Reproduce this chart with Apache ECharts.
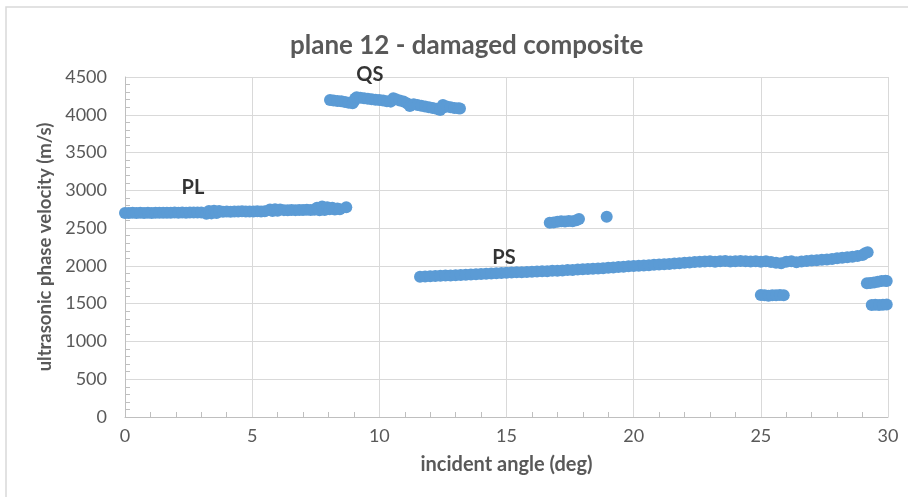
<!DOCTYPE html>
<html>
<head>
<meta charset="utf-8">
<script src="https://cdn.jsdelivr.net/npm/echarts@6/dist/echarts.min.js"></script>
<style>
html,body{margin:0;padding:0;background:#fff;}
#chart{width:908px;height:497px;}
</style>
</head>
<body>
<div id="chart"></div>
<script>
// PL branch [angle (deg), velocity (m/s)]
const plData = [
[0,2700],[0.15,2700],[0.3,2702],[0.45,2700],[0.6,2703],[0.75,2701],[0.9,2702],[1.05,2700],[1.2,2703],[1.35,2702],
[1.5,2704],[1.65,2702],[1.8,2703],[1.95,2705],[2.1,2703],[2.25,2705],[2.4,2704],[2.55,2706],[2.7,2705],[2.85,2707],
[3.0,2706],[3.2,2690],[3.3,2725],[3.4,2695],[3.5,2730],[3.6,2700],[3.7,2728],[3.85,2718],[4.0,2720],[4.15,2718],
[4.3,2721],[4.45,2719],[4.6,2722],[4.75,2720],[4.9,2721],[5.05,2719],[5.2,2722],[5.35,2720],[5.5,2723],[5.7,2745],
[5.8,2725],[5.9,2750],[6.0,2730],[6.1,2745],[6.25,2738],[6.4,2737],[6.55,2740],[6.7,2738],[6.85,2741],[7.0,2740],
[7.15,2742],[7.3,2741],[7.45,2743],[7.55,2770],[7.65,2735],[7.75,2785],[7.85,2740],[7.95,2775],[8.05,2750],[8.15,2770],
[8.25,2745],[8.35,2760],[8.45,2750],[8.7,2775]
];
// QS branch
const qsData = [
[8.06,4195],[8.2,4190],[8.35,4183],[8.5,4178],[8.65,4170],[8.8,4160],[8.95,4152],[9.0,4180],[9.05,4215],[9.11,4231],
[9.25,4225],[9.4,4220],[9.55,4213],[9.7,4205],[9.85,4200],[10.0,4195],[10.15,4188],[10.3,4180],[10.45,4174],[10.55,4218],
[10.65,4205],[10.8,4190],[10.95,4175],[11.1,4150],[11.2,4115],[11.35,4140],[11.5,4130],[11.65,4120],[11.8,4110],[11.95,4100],
[12.1,4090],[12.25,4080],[12.39,4063],[12.5,4130],[12.52,4095],[12.65,4110],[12.8,4100],[12.95,4090],[13.1,4085],[13.17,4082]
];
// PS branch (main band)
const psData = [
[11.6,1857],[11.8,1860],[12.0,1862],[12.2,1866],[12.4,1868],[12.6,1872],[12.8,1874],[13.0,1877],[13.2,1878],[13.4,1884],
[13.6,1886],[13.8,1890],[14.0,1893],[14.2,1895],[14.4,1900],[14.6,1903],[14.8,1906],[15.0,1910],[15.2,1912],[15.4,1915],
[15.6,1916],[15.8,1920],[16.0,1922],[16.2,1925],[16.4,1928],[16.6,1930],[16.8,1935],[17.0,1937],[17.2,1940],[17.4,1944],
[17.6,1947],[17.8,1952],[18.0,1955],[18.2,1958],[18.4,1962],[18.6,1965],[18.8,1970],[19.0,1975],[19.2,1980],[19.4,1984],
[19.6,1988],[19.8,1994],[20.0,1998],[20.2,2002],[20.4,2006],[20.6,2010],[20.8,2014],[21.0,2018],[21.2,2022],[21.4,2026],
[21.6,2030],[21.8,2034],[22.0,2040],[22.2,2044],[22.4,2050],[22.6,2054],[22.8,2058],[23.0,2060],[23.2,2056],[23.4,2060],
[23.6,2064],[23.8,2058],[24.0,2062],[24.2,2066],[24.4,2060],[24.6,2058],[24.8,2062],[25.0,2056],[25.2,2060],[25.4,2052],
[25.6,2040],[25.8,2036],[26.0,2055],[26.2,2062],[26.4,2048],[26.6,2058],[26.8,2066],[27.0,2070],[27.2,2076],[27.4,2080],
[27.6,2086],[27.8,2092],[28.0,2100],[28.2,2108],[28.4,2115],[28.6,2122],[28.8,2130],[29.0,2145],[29.1,2166],[29.2,2180]
];
// scattered extra clusters
const upperCluster = [[16.7,2572],[16.85,2575],[17.0,2585],[17.15,2590],[17.3,2588],[17.45,2595],[17.6,2592],[17.75,2605],[17.85,2620],[18.94,2651]];
const lowCluster25 = [[25.0,1615],[25.15,1612],[25.3,1605],[25.45,1610],[25.6,1612],[25.75,1615],[25.9,1612]];
const cluster29a = [[29.17,1769],[29.3,1772],[29.45,1780],[29.6,1790],[29.75,1800],[29.9,1804],[29.95,1800]];
const cluster29b = [[29.36,1482],[29.5,1485],[29.65,1483],[29.8,1486],[29.95,1488]];
// branch labels and their anchor positions (data coords)
const branchLabels = [
  {name:'PL', value:[2.67,3031]},
  {name:'QS', value:[9.63,4526]},
  {name:'PS', value:[14.9,2104]}
];
const xTicks = {min:0, max:30, interval:5};
const yTicks = {min:0, max:4500, interval:500};

const FONT = 'Lato, "Open Sans", sans-serif';
const blue = '#5B9BD5';
const chart = echarts.init(document.getElementById('chart'));
const pointSeries = [plData, qsData, psData, upperCluster, lowCluster25, cluster29a, cluster29b].map(d => ({
  type:'scatter', data:d, symbolSize:12, itemStyle:{color:blue, opacity:1}, silent:true, clip:false
}));
chart.setOption({
  animation:false,
  textStyle:{fontFamily:FONT},
  title:{
    text:'plane 12 - damaged composite', left:285, top:28,
    textStyle:{fontFamily:FONT, fontSize:26, fontWeight:'bold', color:'#595959'}
  },
  graphic:[{type:'rect', shape:{x:6, y:7, width:920, height:520}, style:{fill:'none', stroke:'#D9D9D9', lineWidth:1.5}, silent:true}],
  grid:{left:125, right:20, top:77, bottom:80},
  xAxis:{
    type:'value', min:xTicks.min, max:xTicks.max, interval:xTicks.interval,
    name:'incident angle (deg)', nameLocation:'middle', nameGap:38,
    nameTextStyle:{fontFamily:FONT, fontSize:20, fontWeight:'bold', color:'#595959'},
    axisLine:{show:true, lineStyle:{color:'#BFBFBF'}},
    axisTick:{show:false, inside:true},
    minorTick:{show:true, splitNumber:5, length:5, lineStyle:{color:'#BFBFBF'}},
    axisLabel:{fontFamily:FONT, fontSize:18, color:'#595959', margin:10, formatter:v=>String(v)},
    splitLine:{show:true, lineStyle:{color:'#D9D9D9'}}
  },
  yAxis:{
    type:'value', min:yTicks.min, max:yTicks.max, interval:yTicks.interval,
    name:'ultrasonic phase velocity (m/s)', nameLocation:'middle', nameGap:59,
    nameTextStyle:{fontFamily:FONT, fontSize:18.5, fontWeight:'bold', color:'#595959'},
    axisLine:{show:true, lineStyle:{color:'#BFBFBF'}},
    axisTick:{show:false, inside:true},
    minorTick:{show:true, splitNumber:5, length:5, lineStyle:{color:'#BFBFBF'}},
    axisLabel:{fontFamily:FONT, fontSize:18, color:'#595959', margin:18, formatter:v=>String(v)},
    splitLine:{show:true, lineStyle:{color:'#D9D9D9'}}
  },
  series: pointSeries.concat([{
    type:'scatter', data:branchLabels, symbolSize:0, clip:false, silent:true, z:5,
    label:{show:true, position:'inside', formatter:p=>p.name, fontFamily:FONT, fontSize:20, fontWeight:'bold', color:'#000'}
  }])
});
</script>
</body>
</html>
